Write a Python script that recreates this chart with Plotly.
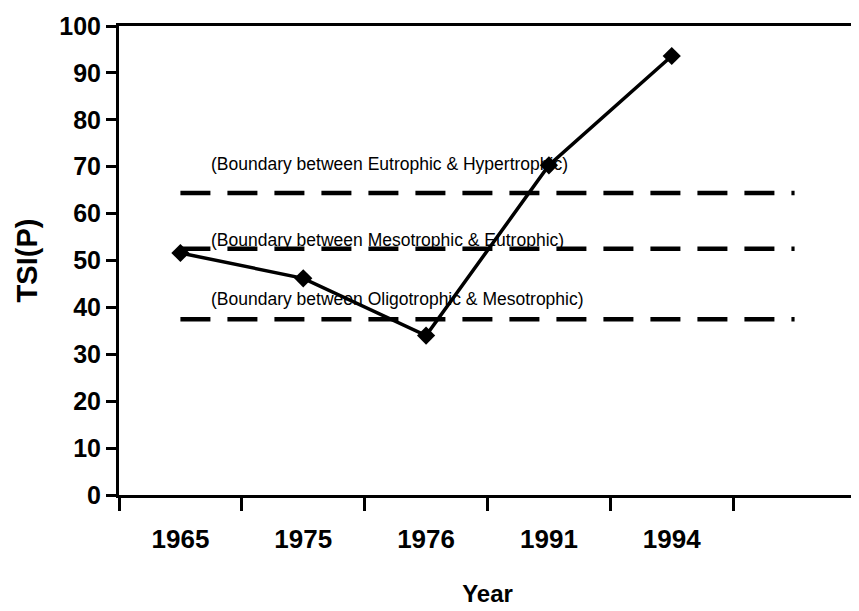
import plotly.graph_objects as go

years = ["1965", "1975", "1976", "1991", "1994"]
categories = years + [" "]
tsi_values = [51.6, 46.2, 34.0, 70.3, 93.6]

boundary_values = [64.4, 52.5, 37.5]
boundary_labels = [
    "(Boundary between Eutrophic & Hypertrophic)",
    "(Boundary between Mesotrophic & Eutrophic)",
    "(Boundary between Oligotrophic & Mesotrophic)",
]
label_offsets = [6.2, 1.9, 4.3]

y_ticks = list(range(0, 101, 10))

BOLD = "Liberation Sans"
NARROW = "Liberation Sans Narrow, Arial Narrow, Liberation Sans"

fig = go.Figure()

for val in boundary_values:
    fig.add_trace(go.Scatter(
        x=categories, y=[val] * len(categories), mode="lines",
        line=dict(color="black", width=4.5, dash="30px,17px"),
        showlegend=False, hoverinfo="skip"))

fig.add_trace(go.Scatter(
    x=years, y=tsi_values, mode="lines+markers",
    line=dict(color="black", width=3.5),
    marker=dict(symbol="diamond", size=14, color="black"),
    showlegend=False))

for val, lab, off in zip(boundary_values, boundary_labels, label_offsets):
    fig.add_annotation(x=0.23, y=val + off, xref="x", yref="y", text=lab,
                       showarrow=False, xanchor="left", yanchor="middle",
                       font=dict(family=NARROW, size=17.5, color="black"))

fig.add_shape(type="line", xref="paper", yref="paper", x0=1, x1=1, y0=0, y1=1,
              line=dict(color="#444", width=1.5))

fig.update_xaxes(
    type="category", categoryorder="array", categoryarray=categories,
    range=[-0.5, len(categories) - 0.5],
    tickson="boundaries", ticks="outside", ticklen=13, tickwidth=3, tickcolor="black",
    showline=True, linecolor="black", linewidth=3, mirror=True,
    showgrid=False, zeroline=False,
    tickfont=dict(family=BOLD, size=26, color="black", weight="bold"),
    ticklabelstandoff=19,
    title=dict(text="<b>Year</b>", font=dict(family=BOLD, size=24, color="black"), standoff=32),
)
fig.update_yaxes(
    range=[0, 100], tickmode="array", tickvals=y_ticks,
    ticks="outside", ticklen=10, tickwidth=3, tickcolor="black",
    showline=True, linecolor="black", linewidth=3,
    showgrid=False, zeroline=False,
    tickfont=dict(family=BOLD, size=25, color="black", weight="bold"),
    ticklabelstandoff=0,
    title=dict(text="<b>TSI(P)</b>", font=dict(family=BOLD, size=29, color="black"), standoff=14),
)

fig.update_layout(
    width=851, height=603,
    margin=dict(l=111, r=3, t=18, b=116, autoexpand=False),
    plot_bgcolor="white", paper_bgcolor="white",
)

fig.write_html("out.html")
